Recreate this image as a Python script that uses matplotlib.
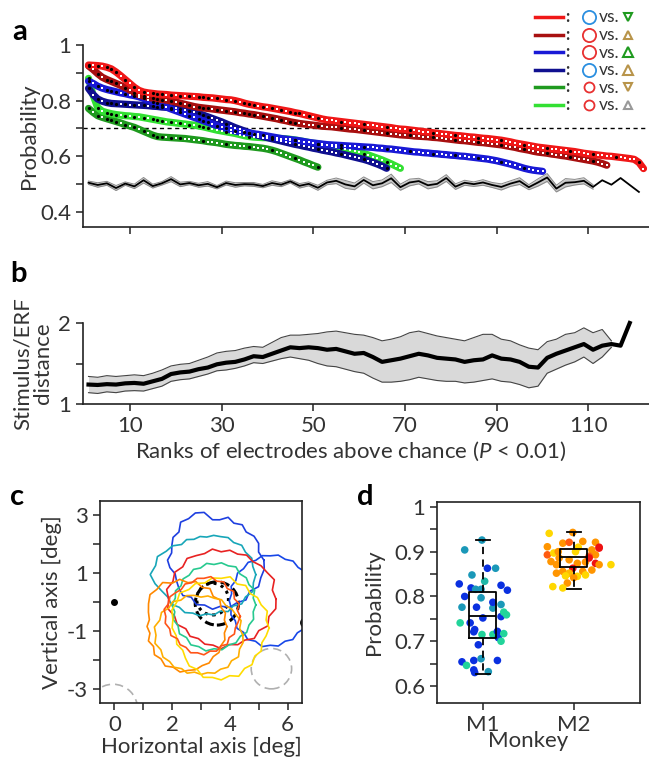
import numpy as np
import matplotlib
matplotlib.use("Agg")
import matplotlib.pyplot as plt
from matplotlib.patches import Circle

plt.rcParams['font.family'] = ['Lato', 'DejaVu Sans']
plt.rcParams['mathtext.fontset'] = 'custom'
plt.rcParams['mathtext.rm'] = 'Lato'
plt.rcParams['mathtext.it'] = 'Lato:italic'
TXT = '#333333'
plt.rcParams['text.color'] = TXT
plt.rcParams['axes.labelcolor'] = TXT
plt.rcParams['xtick.color'] = TXT
plt.rcParams['ytick.color'] = TXT
plt.rcParams['axes.edgecolor'] = '#222222'
plt.rcParams['axes.linewidth'] = 1.2
FS = 16

# ---------------- panel a : ranked decoding probabilities ----------------
red = [.928, .927, .926, .924, .920, .914, .903, .890, .876, .862, .848, .837, .831, .828, .826, .824,
       .823, .822, .820, .819, .818, .817, .816, .815, .814, .812, .811, .810, .808, .806, .804, .803,
       .800, .796, .791, .787, .784, .781, .778, .776, .773, .770, .767, .764, .761, .757, .754, .750,
       .746, .742, .738, .734, .731, .729, .727, .725, .723, .721, .719, .717, .715, .713, .711, .709,
       .707, .705, .703, .700, .698, .697, .695, .693, .691, .689, .687, .685, .683, .681, .679, .677,
       .675, .674, .672, .670, .669, .667, .665, .664, .662, .660, .658, .655, .652, .648, .645, .642,
       .639, .636, .633, .631, .629, .627, .625, .623, .621, .619, .617, .614, .611, .609, .607, .605,
       .603, .601, .600, .598, .596, .594, .592, .589, .578, .556]
dark_red = [.925, .912, .897, .884, .876, .869, .862, .855, .847, .838, .829, .821, .816, .812, .809,
            .806, .804, .802, .799, .795, .791, .787, .783, .779, .776, .774, .772, .770, .768, .766,
            .764, .762, .760, .757, .755, .752, .750, .747, .744, .741, .738, .735, .731, .728, .724,
            .721, .718, .716, .714, .712, .710, .708, .707, .706, .704, .702, .700, .698, .697, .695,
            .693, .691, .689, .687, .685, .683, .681, .679, .677, .676, .675, .673, .672, .671, .670,
            .668, .667, .665, .663, .661, .659, .657, .656, .654, .652, .650, .649, .647, .645, .643,
            .641, .638, .635, .632, .628, .625, .622, .618, .615, .613, .611, .608, .606, .603, .601,
            .598, .595, .592, .589, .586, .583, .579, .574, .568]
blue = [.870, .862, .852, .845, .840, .836, .832, .828, .825, .821, .818, .814, .808, .802, .796, .790,
        .783, .777, .770, .764, .758, .752, .746, .740, .734, .728, .722, .716, .710, .705, .700, .695,
        .691, .688, .686, .684, .681, .679, .676, .673, .670, .667, .664, .662, .660, .658, .656, .653,
        .650, .648, .646, .644, .642, .641, .640, .639, .638, .637, .636, .635, .634, .633, .632, .630,
        .629, .627, .626, .624, .622, .620, .618, .616, .615, .613, .612, .610, .609, .607, .606, .604,
        .603, .601, .600, .598, .596, .594, .592, .590, .587, .584, .580, .576, .572, .567, .562, .557,
        .553, .550, .548, .546]
dark_blue = [.844, .822, .806, .798, .793, .790, .789, .788, .787, .786, .785, .784, .783, .782, .780,
             .779, .777, .776, .774, .772, .769, .767, .763, .759, .754, .748, .742, .736, .730, .724,
             .717, .710, .703, .697, .691, .685, .680, .675, .671, .667, .663, .659, .655, .651, .647,
             .643, .640, .636, .633, .629, .626, .622, .619, .616, .612, .609, .605, .601, .597, .593,
             .589, .584, .578, .572, .565, .557]
light_green = [.880, .820, .775, .762, .757, .753, .750, .748, .746, .745, .743, .742, .739, .736, .733,
               .730, .727, .724, .722, .720, .718, .716, .714, .712, .709, .706, .702, .698, .694, .691,
               .688, .685, .682, .678, .674, .671, .669, .668, .667, .667, .666, .665, .664, .663, .661,
               .659, .656, .653, .650, .647, .645, .642, .639, .636, .632, .629, .626, .622, .618, .614,
               .610, .605, .599, .593, .587, .580, .573, .565, .557]
dark_green = [.772, .758, .746, .740, .735, .730, .725, .720, .714, .709, .704, .697, .690, .683, .676,
              .671, .669, .668, .667, .666, .665, .664, .662, .660, .658, .656, .653, .651, .649, .646,
              .643, .641, .639, .638, .636, .635, .633, .631, .629, .626, .622, .617, .611, .605, .599,
              .593, .587, .580, .574, .567, .561]
# shuffled-label control (every second rank) and its spread
chance = [0.505, 0.497, 0.503, 0.486, 0.502, 0.492, 0.514, 0.493, 0.503, 0.518, 0.499, 0.504, 0.496,
          0.501, 0.489, 0.504, 0.497, 0.500, 0.499, 0.493, 0.504, 0.498, 0.510, 0.494, 0.501, 0.487,
          0.506, 0.512, 0.499, 0.492, 0.515, 0.496, 0.503, 0.521, 0.489, 0.506, 0.511, 0.496, 0.501,
          0.522, 0.491, 0.505, 0.500, 0.506, 0.497, 0.490, 0.502, 0.511, 0.489, 0.506, 0.524, 0.484,
          0.505, 0.507, 0.512, 0.490, 0.514, 0.498, 0.522, 0.497, 0.472]
chance_sem = [0.006, 0.008, 0.007, 0.009, 0.006, 0.008, 0.010, 0.007, 0.006, 0.009, 0.008, 0.006,
              0.007, 0.008, 0.006, 0.007, 0.008, 0.006, 0.007, 0.006, 0.008, 0.007, 0.006, 0.008,
              0.007, 0.009, 0.008, 0.010, 0.014, 0.012, 0.011, 0.013, 0.012, 0.015, 0.011, 0.012,
              0.010, 0.013, 0.011, 0.012, 0.010, 0.009, 0.008, 0.010, 0.009, 0.011, 0.010, 0.012,
              0.009, 0.013, 0.014, 0.012, 0.015, 0.010, 0.011, 0.008, 0.0, 0.0, 0.0, 0.0, 0.0]

# ---------------- panel b : stimulus / ERF distance ----------------
dist_mean = [1.24, 1.235, 1.245, 1.24, 1.255, 1.26, 1.25, 1.28, 1.31, 1.37, 1.39, 1.40, 1.43, 1.45,
             1.49, 1.51, 1.52, 1.55, 1.59, 1.58, 1.62, 1.66, 1.70, 1.69, 1.70, 1.69, 1.67, 1.68, 1.65,
             1.62, 1.63, 1.58, 1.52, 1.54, 1.56, 1.59, 1.62, 1.60, 1.57, 1.56, 1.55, 1.52, 1.54, 1.55,
             1.60, 1.56, 1.55, 1.52, 1.46, 1.45, 1.57, 1.62, 1.66, 1.70, 1.74, 1.67, 1.72, 1.74, 1.72,
             2.00]
dist_hi = [1.34, 1.33, 1.35, 1.34, 1.35, 1.36, 1.35, 1.38, 1.42, 1.47, 1.49, 1.50, 1.54, 1.58, 1.63,
           1.65, 1.66, 1.69, 1.71, 1.70, 1.76, 1.82, 1.85, 1.85, 1.86, 1.87, 1.89, 1.90, 1.88, 1.86,
           1.85, 1.82, 1.78, 1.80, 1.83, 1.88, 1.90, 1.87, 1.84, 1.82, 1.80, 1.78, 1.82, 1.86, 1.86,
           1.80, 1.78, 1.73, 1.69, 1.67, 1.77, 1.80, 1.86, 1.88, 1.94, 1.88, 1.92, 1.78, np.nan, np.nan]
dist_lo = [1.14, 1.13, 1.15, 1.14, 1.16, 1.165, 1.16, 1.19, 1.22, 1.28, 1.30, 1.31, 1.34, 1.37, 1.41,
           1.42, 1.44, 1.47, 1.51, 1.50, 1.53, 1.56, 1.58, 1.56, 1.54, 1.50, 1.47, 1.46, 1.43, 1.40,
           1.38, 1.32, 1.27, 1.27, 1.28, 1.30, 1.33, 1.31, 1.29, 1.28, 1.28, 1.26, 1.27, 1.29, 1.31,
           1.28, 1.27, 1.24, 1.20, 1.22, 1.38, 1.43, 1.48, 1.52, 1.58, 1.50, 1.58, 1.70, np.nan, np.nan]

# ---------------- panel c : receptive field outlines (radius every 10 deg) ----------------
rf_colors = ['#1e3fe0', '#1747e8', '#17a6b8', '#e82222', '#27c98f', '#ff8800', '#ffae00', '#ffdc00', '#ff5418']
rf_centers = [(3.4, 1.45), (5.4, 0.05), (3.2, 0.95), (3.7, 0.1), (3.45, -0.1), (2.55, -0.85), (3.0, -1.15),
              (3.7, -0.9), (3.1, -0.5)]
rf_radii = [
    [1.78, 1.62, 1.70, 1.66, 1.52, 1.60, 1.48, 1.58, 1.42, 1.40, 1.68, 1.74, 1.66, 1.72, 1.52, 1.58, 1.50, 1.44,
     1.56, 1.50, 1.38, 1.44, 1.52, 1.60, 1.48, 1.64, 1.58, 1.70, 1.62, 1.74, 1.70, 1.80, 1.68, 1.84, 1.78, 1.82],
    [1.50, 1.42, 1.52, 1.46, 1.56, 1.50, 1.58, 1.52, 1.60, 1.55, 1.58, 1.48, 1.53, 1.44, 1.48, 1.38, 1.44, 1.36,
     1.42, 1.38, 1.45, 1.40, 1.50, 1.44, 1.56, 1.50, 1.62, 1.55, 1.60, 1.50, 1.56, 1.46, 1.52, 1.42, 1.48, 1.44],
    [1.70, 1.62, 1.66, 1.55, 1.58, 1.45, 1.48, 1.40, 1.38, 1.30, 1.34, 1.30, 1.40, 1.36, 1.55, 1.62, 1.82, 1.80,
     1.96, 1.82, 1.66, 1.56, 1.60, 1.48, 1.52, 1.42, 1.45, 1.36, 1.42, 1.35, 1.48, 1.42, 1.58, 1.55, 1.70, 1.64],
    [1.90, 1.80, 1.96, 1.84, 1.80, 1.70, 1.76, 1.66, 1.72, 1.64, 1.76, 1.68, 1.74, 1.84, 1.74, 1.86, 1.78, 1.92,
     1.82, 1.88, 1.72, 1.76, 1.60, 1.68, 1.58, 1.66, 1.62, 1.72, 1.60, 1.68, 1.64, 1.78, 1.70, 1.86, 1.76, 1.92],
    [1.45, 1.38, 1.50, 1.40, 1.46, 1.40, 1.52, 1.44, 1.48, 1.40, 1.46, 1.36, 1.42, 1.34, 1.40, 1.32, 1.42, 1.36,
     1.46, 1.38, 1.50, 1.44, 1.56, 1.48, 1.60, 1.54, 1.62, 1.52, 1.58, 1.48, 1.52, 1.42, 1.48, 1.40, 1.46, 1.38],
    [1.35, 1.28, 1.38, 1.32, 1.44, 1.36, 1.52, 1.44, 1.58, 1.52, 1.66, 1.60, 1.76, 1.68, 1.72, 1.58, 1.46, 1.36,
     1.42, 1.34, 1.46, 1.38, 1.52, 1.46, 1.58, 1.50, 1.60, 1.52, 1.52, 1.44, 1.46, 1.36, 1.40, 1.32, 1.36, 1.28],
    [1.45, 1.36, 1.48, 1.40, 1.40, 1.34, 1.42, 1.36, 1.38, 1.32, 1.40, 1.46, 1.40, 1.52, 1.46, 1.58, 1.52, 1.64,
     1.56, 1.62, 1.48, 1.52, 1.42, 1.45, 1.34, 1.40, 1.30, 1.36, 1.32, 1.40, 1.36, 1.45, 1.38, 1.50, 1.42, 1.48],
    [1.66, 1.58, 1.70, 1.60, 1.64, 1.56, 1.70, 1.62, 1.80, 1.72, 1.76, 1.66, 1.78, 1.74, 1.88, 1.78, 1.82, 1.70,
     1.70, 1.58, 1.64, 1.54, 1.62, 1.72, 1.66, 1.82, 1.74, 1.80, 1.68, 1.78, 1.62, 1.66, 1.52, 1.60, 1.50, 1.58],
    [1.26, 1.18, 1.30, 1.22, 1.35, 1.26, 1.38, 1.30, 1.40, 1.32, 1.34, 1.24, 1.30, 1.22, 1.28, 1.36, 1.30, 1.40,
     1.32, 1.36, 1.26, 1.32, 1.20, 1.28, 1.24, 1.34, 1.28, 1.33, 1.22, 1.28, 1.18, 1.26, 1.14, 1.22, 1.16, 1.20],
]
stim_dashed = (3.55, -0.05, 0.75)
stim_dotted = (3.4, 0.1, 0.55)
gray_circles = [(-0.05, -3.7, 0.85), (5.44, -2.31, 0.7)]
fixation = (0.0, 0.0)
edge_mark = (6.62, -0.72, 0.15)

# ---------------- panel d : probability per monkey ----------------
m1_x = [0.80, 0.99, 1.14, 1.05, 1.20, 1.27, 0.74, 0.88, 0.80, 0.87, 0.92, 0.98, 1.02, 0.98, 0.93, 0.77,
        0.86, 0.75, 1.00, 1.11, 1.20, 1.20, 1.23, 1.26, 0.90, 0.91, 0.99, 1.11, 1.16, 1.17, 1.20, 1.23,
        0.95, 0.98, 0.77, 0.90, 0.82, 0.90, 0.91, 1.06, 1.16, 1.11]
m1_y = [0.904, 0.926, 0.863, 0.863, 0.825, 0.814, 0.828, 0.848, 0.800, 0.819, 0.816, 0.816, 0.834, 0.797,
        0.776, 0.776, 0.741, 0.741, 0.752, 0.774, 0.782, 0.755, 0.765, 0.759, 0.721, 0.726, 0.715, 0.715,
        0.722, 0.708, 0.700, 0.717, 0.692, 0.661, 0.654, 0.657, 0.646, 0.636, 0.630, 0.632, 0.657, 0.787]
m1_c = ['#1a98b8', '#1a98b8', '#1a98b8', '#0a30e0', '#0a30e0', '#0a30e0', '#0a30e0', '#1a98b8', '#0a30e0',
        '#0a30e0', '#1a98b8', '#1a98b8', '#1fb8a8', '#1a98b8', '#0a30e0', '#1a98b8', '#0a30e0', '#22d49a',
        '#0a30e0', '#1a98b8', '#1a98b8', '#0a30e0', '#22d49a', '#22d49a', '#0a30e0', '#0a30e0', '#22d49a',
        '#22d49a', '#0a30e0', '#0a30e0', '#22d49a', '#22d49a', '#0a30e0', '#1a98b8', '#0a30e0', '#0a30e0',
        '#22d49a', '#0a30e0', '#0a30e0', '#1a98b8', '#0a30e0', '#0a30e0']
m2_x = [1.73, 1.99, 2.10, 2.24, 2.28, 1.71, 1.88, 1.95, 2.05, 1.71, 1.78, 1.83, 2.02, 2.20, 2.24, 2.17,
        1.75, 1.84, 1.95, 2.04, 2.13, 2.24, 2.28, 1.81, 1.99, 1.88, 1.95, 2.10, 2.13, 2.20, 1.81, 1.91,
        2.04, 1.93, 1.77, 1.88, 2.00, 2.17, 2.41, 2.28]
m2_y = [0.941, 0.943, 0.923, 0.921, 0.910, 0.911, 0.919, 0.921, 0.910, 0.893, 0.897, 0.900, 0.900, 0.904,
        0.893, 0.890, 0.878, 0.886, 0.882, 0.874, 0.877, 0.874, 0.871, 0.871, 0.863, 0.856, 0.852, 0.856,
        0.848, 0.859, 0.852, 0.846, 0.845, 0.830, 0.822, 0.819, 0.842, 0.886, 0.871, 0.908]
m2_c = ['#ffd700', '#ff9500', '#ff9500', '#ff9500', '#ee1111', '#ff9500', '#ff9500', '#ff5a10', '#ffd700',
        '#ff5a10', '#ffd700', '#ff9500', '#ffd700', '#ff9500', '#ff9500', '#ff5a10', '#ff9500', '#ff9500',
        '#ff9500', '#ff9500', '#ff9500', '#ee1111', '#ff9500', '#ff9500', '#ee1111', '#ff9500', '#ffbb00',
        '#ff9500', '#ffd700', '#ff9500', '#ff9500', '#ffd700', '#ffd700', '#ff9500', '#ffd700', '#ffd700',
        '#ff9500', '#ee1111', '#ffd700', '#ee1111']
box_stats = [dict(med=0.757, q1=0.708, q3=0.811, whislo=0.627, whishi=0.926, fliers=[]),
             dict(med=0.888, q1=0.866, q3=0.905, whislo=0.817, whishi=0.944, fliers=[])]
monkeys = ['M1', 'M2']


W, H = 649, 758
fig = plt.figure(figsize=(W / 100, H / 100), dpi=100)


def fbox(x0, y0, x1, y1):
    # pixel box (top-left origin) -> figure fraction rect
    return [x0 / W, 1 - y1 / H, (x1 - x0) / W, (y1 - y0) / H]


# ---- a
ax = fig.add_axes(fbox(83, 45, 649, 227))
cr = np.arange(1, 2 * len(chance), 2)
ch = np.array(chance)
sem = np.array(chance_sem)
m = sem > 0
ax.fill_between(cr[m], ch[m] - sem[m], ch[m] + sem[m], color='#c8c8c8', lw=0)
ax.plot(cr[m], ch[m] - sem[m], color='#888888', lw=0.7)
ax.plot(cr[m], ch[m] + sem[m], color='#888888', lw=0.7)
ax.plot(cr, ch, color='black', lw=1.3)
ax.axhline(0.7, color='black', ls=(0, (3, 2.5)), lw=1.0, xmax=0.995)

series = [(dark_green, '#1f9a1f'), (light_green, '#33e033'), (dark_blue, '#101090'),
          (blue, '#1a1ad6'), (dark_red, '#a81010'), (red, '#f01818')]
for vals, col in series:
    v = np.array(vals)
    r = np.arange(1, len(v) + 1)
    ax.plot(r, v, color=col, lw=5.2, solid_capstyle='round', zorder=3)
    idx = np.arange(len(v))
    blk = (idx < len(v) * 0.4) & (idx % 2 == 0) | (idx % 5 == 0)
    ax.plot(r[~blk], v[~blk], 's', ms=2.0, color='white', mew=0, zorder=4)
    ax.plot(r[blk], v[blk], 'o', ms=2.3, color='black', mew=0, zorder=4)

ax.set_xlim(-0.2, 123.2)
ax.set_ylim(0.346, 1.0)
ax.spines[['top', 'right']].set_visible(False)
ax.set_yticks([0.4, 0.6, 0.8, 1.0])
ax.set_yticklabels(['0.4', '0.6', '0.8', '1'])
ax.set_yticks([0.5, 0.7, 0.9], minor=True)
ax.set_xticks(np.arange(10, 120, 20))
ax.set_xticklabels([])
ax.tick_params(which='both', direction='out', length=5, width=1.2, labelsize=FS)
ax.set_ylabel('Probability', fontsize=FS)
ax.yaxis.set_label_coords(-0.077, 0.5)

# legend drawn in pixel units
lg = fig.add_axes(fbox(525, 5, 649, 115))
lg.set_xlim(525, 649)
lg.set_ylim(115, 5)
lg.axis('off')
rows = [('#f01818', '#2b8fe0', 9.5, 'v', '#1f9a1f', 5.5),
        ('#a81010', '#e83030', 9.5, '^', '#b8944a', 5.5),
        ('#1a1ad6', '#e83030', 9.5, '^', '#1f9a1f', 7.0),
        ('#101090', '#2b8fe0', 9.5, '^', '#b8944a', 7.0),
        ('#1f9a1f', '#e83030', 7.2, 'v', '#b8944a', 5.5),
        ('#33e033', '#e83030', 7.2, '^', '#999999', 5.5)]
for i, (lc, cc, cs, tm, tc, ts) in enumerate(rows):
    yy = 17 + i * 17.6
    lg.plot([535, 563], [yy, yy], color=lc, lw=2.5)
    lg.text(567, yy, ':', fontsize=12, va='center', ha='center', fontweight='bold')
    lg.plot(588.5, yy, 'o', ms=cs, mfc='none', mec=cc, mew=1.3)
    lg.text(599, yy + 0.5, 'vs.', fontsize=12.5, va='center', ha='left')
    lg.plot(628, yy, tm, ms=ts, mfc='none', mec=tc, mew=1.5)

# ---- b
bx = fig.add_axes(fbox(83, 323, 649, 404))
br = np.arange(1, 2 * len(dist_mean), 2)
bx.fill_between(br, dist_lo, dist_hi, color='#d9d9d9', lw=0)
bx.plot(br, dist_hi, color='#444444', lw=0.8)
bx.plot(br, dist_lo, color='#444444', lw=0.8)
bx.plot(br, dist_mean, color='black', lw=3.0, clip_on=False, zorder=3)
bx.set_xlim(-0.2, 123.2)
bx.set_ylim(1, 2)
bx.spines[['top', 'right']].set_visible(False)
bx.set_yticks([1, 2])
bx.set_yticks([1.5], minor=True)
bx.set_xticks(np.arange(10, 120, 20))
bx.tick_params(which='both', direction='out', length=5, width=1.2, labelsize=FS)
bx.set_ylabel('Stimulus/ERF\ndistance', fontsize=FS, linespacing=1.0)
bx.yaxis.set_label_coords(-0.053, 0.5)
bx.set_xlabel('Ranks of electrodes above chance ($\\it{P}$ < 0.01)', fontsize=FS)
bx.xaxis.set_label_coords(0.472, -0.44)

# ---- c
cx = fig.add_axes(fbox(100, 501, 302, 703))
ang = np.deg2rad(np.arange(0, 360, 10))
ang = np.append(ang, ang[0])
for (x0, y0), rad, col in zip(rf_centers, rf_radii, rf_colors):
    rr = np.append(rad, rad[0])
    cx.plot(x0 + rr * np.cos(ang), y0 + rr * np.sin(ang), color=col, lw=1.2)
cx.add_patch(Circle(stim_dashed[:2], stim_dashed[2], fill=False, ec='black', lw=2.2, ls=(0, (3, 1.5))))
cx.add_patch(Circle(stim_dotted[:2], stim_dotted[2], fill=False, ec='black', lw=2.2, ls=(0, (1, 1.5))))
for gx, gy, gr in gray_circles:
    cx.add_patch(Circle((gx, gy), gr, fill=False, ec='#b0b0b0', lw=1.2, ls=(0, (5, 3))))
cx.add_patch(Circle(edge_mark[:2], edge_mark[2], fill=False, ec='black', lw=1.5))
cx.plot(*fixation, 'o', color='black', ms=4)
cx.set_xlim(-0.5, 6.5)
cx.set_ylim(-3.5, 3.5)
cx.set_xticks(range(0, 7))
cx.set_xticklabels(['0', '', '2', '', '4', '', '6'])
cx.set_yticks(range(-3, 4))
cx.set_yticklabels(['-3', '', '-1', '', '1', '', '3'])
cx.tick_params(direction='out', length=5, width=1.2, labelsize=FS)
cx.set_xlabel('Horizontal axis [deg]', fontsize=FS)
cx.xaxis.set_label_coords(0.5, -0.17)
cx.set_ylabel('Vertical axis [deg]', fontsize=FS)
cx.yaxis.set_label_coords(-0.19, 0.5)

# ---- d
dx = fig.add_axes(fbox(437, 502, 640, 703))
dx.scatter(m1_x, m1_y, s=30, c=m1_c, lw=0, zorder=2)
dx.scatter(m2_x, m2_y, s=30, c=m2_c, lw=0, zorder=2)
kw = dict(color='black', lw=1.3)
dx.bxp(box_stats, positions=[1, 2], widths=0.3, capwidths=0.15, showfliers=False,
       boxprops=kw, medianprops=kw, capprops=kw,
       whiskerprops=dict(color='black', lw=1.3, ls=(0, (4, 3))), zorder=3)
dx.set_xlim(0.495, 2.73)
dx.set_ylim(0.562, 1.011)
dx.set_xticks([1, 2])
dx.set_xticklabels(monkeys)
dx.set_yticks([0.6, 0.7, 0.8, 0.9, 1.0])
dx.set_yticklabels(['0.6', '0.7', '0.8', '0.9', '1'])
dx.set_yticks([0.65, 0.75, 0.85, 0.95], minor=True)
dx.tick_params(which='both', direction='out', length=5, width=1.2, labelsize=FS)
dx.set_ylabel('Probability', fontsize=FS)
dx.yaxis.set_label_coords(-0.26, 0.5)
dx.set_xlabel('Monkey', fontsize=FS)
dx.xaxis.set_label_coords(0.448, -0.14)

# panel letters
for lab, px, py in [('a', 12, 40), ('b', 10, 282), ('c', 10, 505), ('d', 357, 505)]:
    fig.text(px / W, 1 - py / H, lab, fontsize=21, fontweight='bold', color='black', va='baseline')

fig.savefig('out.png', dpi=100)
